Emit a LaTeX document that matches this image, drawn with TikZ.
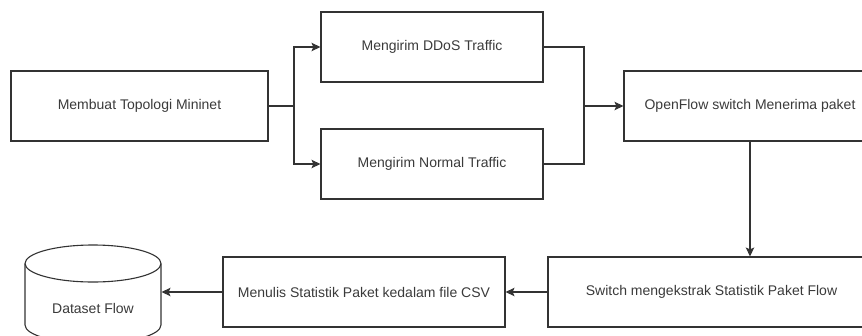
\documentclass[tikz,border=0pt]{standalone}
\usepackage{fontspec}
\setmainfont{Liberation Sans}
\usetikzlibrary{arrows.meta}

\definecolor{linegray}{HTML}{333333}
\definecolor{textgray}{HTML}{3A3A3A}

\begin{document}
\begin{tikzpicture}[x=1pt, y=-1pt,
    box/.style={draw=linegray, line width=1.1pt, minimum height=70pt, inner sep=0pt,
                text=textgray, font=\fontsize{14}{16}\selectfont},
    line/.style={draw=linegray, line width=1.1pt},
    arr/.style={line, -{Stealth[length=9pt, width=8.5pt, inset=2pt]}}]
  \useasboundingbox (0,0) rectangle (862,335);
  \clip (0,0) rectangle (862,335);

  \node[box, minimum width=257pt] (topo) at (139.5,106) {Membuat Topologi Mininet};
  \node[box, minimum width=222pt] (ddos) at (432,47) {Mengirim DDoS Traffic};
  \node[box, minimum width=222pt] (normal) at (432,164) {Mengirim Normal Traffic};
  \node[box, minimum width=252pt] (openflow) at (750,106) {OpenFlow switch Menerima paket};
  \node[box, minimum width=327pt] (switch) at (711.5,292) {Switch mengekstrak Statistik Paket Flow};
  \node[box, minimum width=282pt] (menulis) at (364,292) {Menulis Statistik Paket kedalam file CSV};

  % cylinder
  \draw[line, fill=white] (25,263.5) -- (25,325) arc[start angle=180, end angle=0, x radius=68, y radius=18.5] -- (161,263.5);
  \draw[line] (93,263.5) ellipse[x radius=68, y radius=18.5];
  \node[box, draw=none, minimum width=136pt, minimum height=20pt] (dataset) at (93,308) {Dataset Flow};

  \coordinate (split) at (294,106);
  \coordinate (merge) at (584,106);

  \draw[line] (topo.east) -- (split);
  \draw[arr] (split) |- (ddos.west);
  \draw[arr] (split) |- (normal.west);
  \draw[line] (ddos.east) -| (merge);
  \draw[line] (normal.east) -| (merge);
  \draw[arr] (merge) -- (openflow.west);
  \draw[arr] (openflow.south) -- (openflow.south |- switch.north);
  \draw[arr] (switch.west) -- (menulis.east);
  \draw[arr] (menulis.west) -- (menulis.west -| dataset.east);
\end{tikzpicture}
\end{document}
